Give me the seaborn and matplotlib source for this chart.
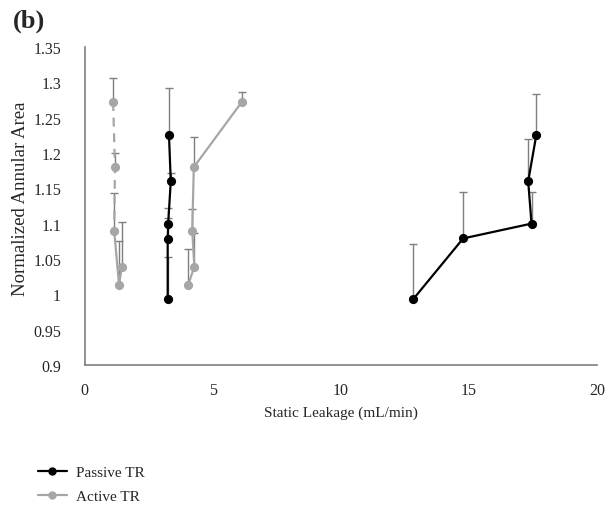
import matplotlib
matplotlib.use("Agg")
import matplotlib.pyplot as plt
import seaborn as sns
import pandas as pd
from matplotlib.lines import Line2D

# values
passive_a_x = [3.24, 3.24, 3.26, 3.36, 3.29]
passive_a_y = [0.993, 1.078, 1.100, 1.160, 1.226]
passive_a_err = [0.060, 0.030, 0.022, 0.012, 0.066]

passive_b_x = [12.83, 14.78, 17.45, 17.32, 17.64]
passive_b_y = [0.993, 1.079, 1.100, 1.160, 1.226]
passive_b_err = [0.078, 0.066, 0.045, 0.060, 0.057]

active_a_x = [1.11, 1.18, 1.15, 1.34, 1.45]
active_a_y = [1.272, 1.180, 1.090, 1.013, 1.039]
active_a_err = [0.034, 0.020, 0.053, 0.062, 0.063]

active_b_x = [4.04, 4.28, 4.20, 4.26, 6.13]
active_b_y = [1.013, 1.039, 1.090, 1.180, 1.272]
active_b_err = [0.051, 0.048, 0.031, 0.043, 0.015]

x_ticks = [0, 5, 10, 15, 20]
y_ticks = [0.9, 0.95, 1, 1.05, 1.1, 1.15, 1.2, 1.25, 1.3, 1.35]

sns.set_style("white")
plt.rcParams['font.family'] = ['Liberation Serif', 'DejaVu Serif']

passive_c = "black"
active_c = "#a6a6a6"
err_c = "#7f7f7f"

fig = plt.figure(figsize=(6.14, 5.06), dpi=100)
ax = fig.add_axes([0.138, 0.277, 0.834, 0.628])

def draw(xs, ys, errs, color, dashed_upto=0):
    ax.errorbar(xs, ys, yerr=[[0] * len(errs), errs], fmt="none",
                ecolor=err_c, elinewidth=1.0, capsize=3, capthick=1.0, zorder=1)
    df = pd.DataFrame({"x": xs, "y": ys})
    if dashed_upto:
        sns.lineplot(data=df.iloc[:dashed_upto + 1], x="x", y="y", sort=False,
                     estimator=None, color=color, linewidth=1.6,
                     linestyle=(0, (4, 3)), ax=ax, zorder=2)
        sns.lineplot(data=df.iloc[dashed_upto:], x="x", y="y", sort=False,
                     estimator=None, color=color, linewidth=1.6, ax=ax, zorder=2)
    else:
        sns.lineplot(data=df, x="x", y="y", sort=False, estimator=None,
                     color=color, linewidth=1.6, ax=ax, zorder=2)
    sns.scatterplot(data=df, x="x", y="y", color=color, s=44,
                    edgecolor=color, linewidth=0, ax=ax, zorder=3)

draw(passive_a_x, passive_a_y, passive_a_err, passive_c)
draw(passive_b_x, passive_b_y, passive_b_err, passive_c)
draw(active_a_x, active_a_y, active_a_err, active_c, dashed_upto=2)
draw(active_b_x, active_b_y, active_b_err, active_c)

ax.set_xlim(0, 20)
ax.set_ylim(0.9, 1.35)
ax.set_xticks(x_ticks)
ax.set_xticklabels([str(v) for v in x_ticks])
ax.set_yticks(y_ticks)
ax.set_yticklabels([f"{v:g}" for v in y_ticks])
ax.tick_params(axis="both", length=0, labelsize=11.5)
ax.tick_params(axis="y", pad=17)
ax.tick_params(axis="x", pad=12)
for s in ["top", "right"]:
    ax.spines[s].set_visible(False)
for s in ["left", "bottom"]:
    ax.spines[s].set_color("#7f7f7f")
    ax.spines[s].set_linewidth(1.2)

ax.set_xlabel("Static Leakage (mL/min)", fontsize=11, labelpad=6)
ax.set_ylabel("Normalized Annular Area", fontsize=13.5)
ax.yaxis.set_label_coords(-0.108, 0.527)

fig.text(0.021, 0.958, "(b)", fontsize=19, fontweight="bold", va="center")

handles = [
    Line2D([0], [0], color=passive_c, marker="o", markersize=5, linewidth=1.6),
    Line2D([0], [0], color=active_c, marker="o", markersize=5, linewidth=1.6),
]
fig.legend(handles, ["Passive TR", "Active TR"], loc="center left",
           bbox_to_anchor=(0.04, 0.041), frameon=False, fontsize=11,
           handlelength=1.85, labelspacing=0.68, handletextpad=0.6)

fig.savefig("out.png", dpi=100)
